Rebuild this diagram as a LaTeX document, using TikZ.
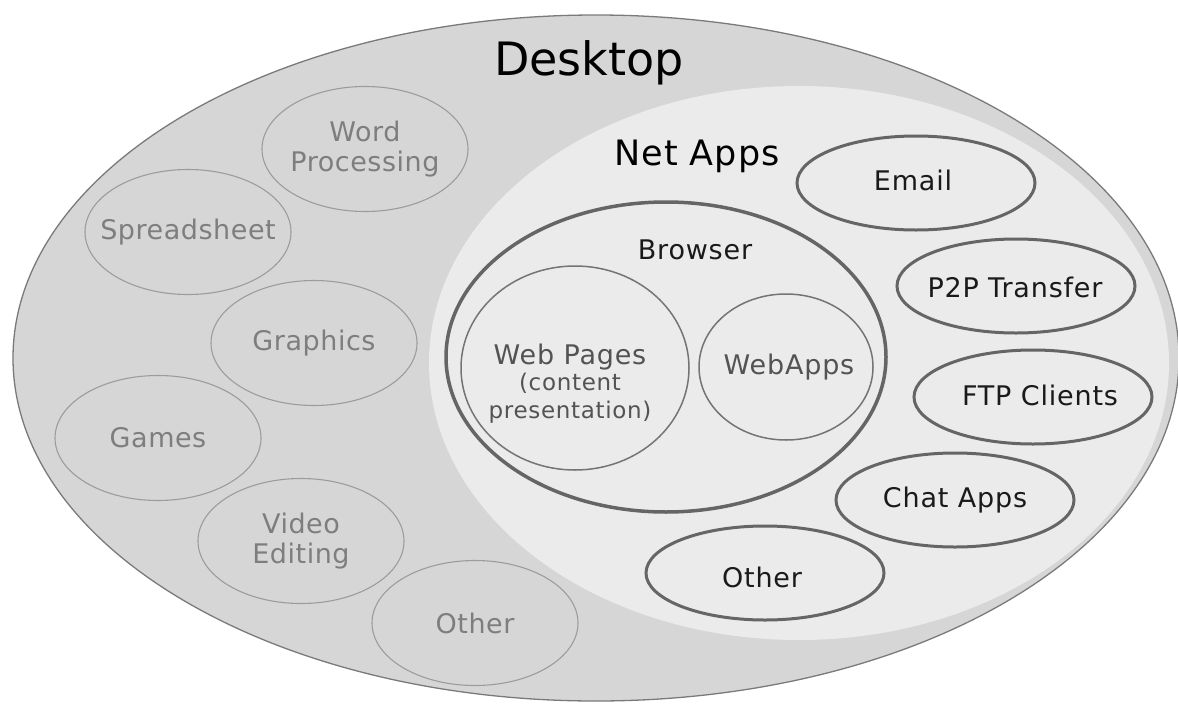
\documentclass[tikz,border=0pt]{standalone}
\usepackage{fontspec}
\setmainfont{DejaVu Sans}
\newfontfamily\spfont[LetterSpace=3]{DejaVu Sans}
\newfontfamily\spgfont[LetterSpace=2]{DejaVu Sans}
\usetikzlibrary{shapes.geometric}
\definecolor{deskfill}{HTML}{D6D6D6}
\definecolor{netfill}{HTML}{EBEBEB}
\definecolor{deskline}{HTML}{7A7A7A}
\definecolor{greyline}{HTML}{9C9C9C}
\definecolor{greytext}{HTML}{7E7E7E}
\definecolor{darkline}{HTML}{656565}
\definecolor{darktext}{HTML}{1A1A1A}
\tikzset{
  appshape/.style={ellipse, inner sep=0pt, minimum width=206pt, minimum height=125pt},
  greyapp/.style={appshape, draw=greyline, line width=1.1pt},
  netapp/.style={ellipse, inner sep=0pt, minimum width=238pt, minimum height=94pt, draw=darkline, line width=3pt},
  greytxt/.style={text=greytext, font=\spgfont\fontsize{27}{30}\selectfont, align=center, inner sep=0pt},
  darktxt/.style={text=darktext, font=\spfont\fontsize{27}{30}\selectfont, align=center, inner sep=0pt},
  innercirc/.style={ellipse, inner sep=0pt, draw=darkline!90, line width=1.5pt},
}
\begin{document}
\begin{tikzpicture}[x=1pt,y=-1pt]
\useasboundingbox (0,0) rectangle (1178,704);
% Desktop and Net Apps regions
\node[ellipse, inner sep=0pt, minimum width=1166pt, minimum height=686pt, fill=deskfill, draw=deskline, line width=1.3pt] (desk) at (596,358) {};
\node[ellipse, inner sep=0pt, minimum width=740pt, minimum height=554pt, fill=netfill] (net) at (799,363) {};
\node[text=black, font=\fontsize{46}{50}\selectfont, inner sep=0pt] (desktitle) at (589,63) {Desktop};
\node[text=black, font=\spfont\fontsize{35}{40}\selectfont, inner sep=0pt] (nettitle) at (697,156) {Net Apps};
% Desktop apps
\node[greyapp] (wp) at (365,149) {};
\node[greytxt] (wpt) at (wp) {Word\\Processing};
\node[greyapp] (ss) at (188,232) {};
\node[greytxt] (sst) at (ss) {Spreadsheet};
\node[greyapp] (gr) at (314,343) {};
\node[greytxt] (grt) at (gr) {Graphics};
\node[greyapp] (ga) at (158,438) {};
\node[greytxt] (gat) at (ga) {Games};
\node[greyapp] (ve) at (301,541) {};
\node[greytxt] (vet) at (ve) {Video\\Editing};
\node[greyapp] (ot) at (475,623) {};
\node[greytxt] (ott) at (ot) {Other};
% Browser
\node[ellipse, inner sep=0pt, minimum width=440pt, minimum height=310pt, draw=darkline, line width=3.5pt] (br) at (666,357) {};
\node[darktxt] (brt) at (695,250) {Browser};
\node[innercirc, minimum width=228pt, minimum height=204pt] (wpg) at (575,368) {};
\node[darktxt, text=darktext!75, align=center] (wpgt) at (570,384) {Web Pages\\[-4pt]{\fontsize{23}{23}\selectfont (content}\\[-2pt]{\fontsize{23}{23}\selectfont presentation)}};
\node[innercirc, minimum width=174pt, minimum height=146pt] (wa) at (786,367) {};
\node[darktxt, text=darktext!75] (wat) at (789,367) {WebApps};
% Net apps
\node[netapp] (em) at (916,183) {};
\node[darktxt] (emt) at (913,180) {Email};
\node[netapp] (p2p) at (1016,286) {};
\node[darktxt] (p2pt) at (1015,287) {P2P Transfer};
\node[netapp] (ftp) at (1033,397) {};
\node[darktxt] (ftpt) at (1040,395) {FTP Clients};
\node[netapp] (chat) at (955,500) {};
\node[darktxt] (chatt) at (955,500) {Chat Apps};
\node[netapp] (oth) at (765,573) {};
\node[darktxt] (otht) at (762,577) {Other};
\end{tikzpicture}
\end{document}
